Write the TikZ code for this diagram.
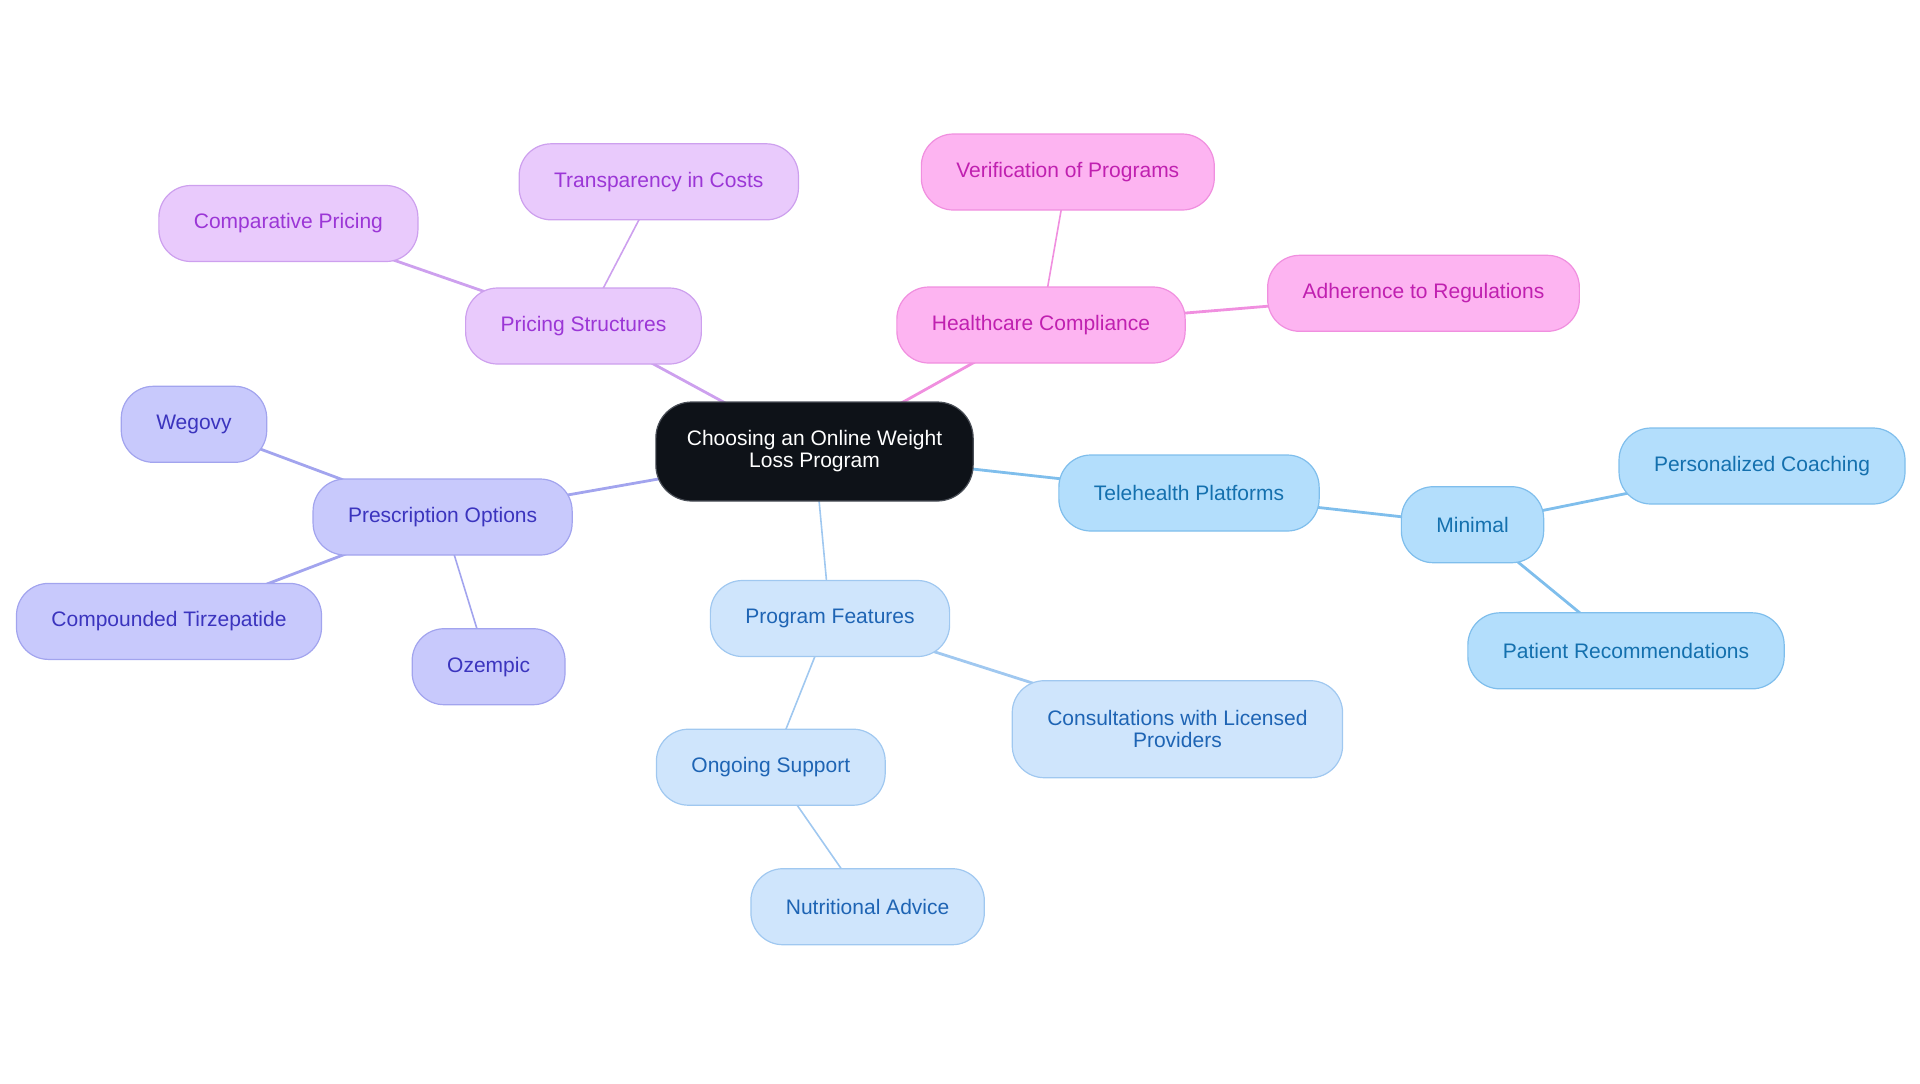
\documentclass[tikz,border=0pt]{standalone}
\usepackage{fontspec}
\setmainfont{Liberation Sans}
\usetikzlibrary{backgrounds}
\definecolor{rootfill}{HTML}{0E1218}
\definecolor{rootline}{HTML}{4A4F57}
\definecolor{pricefill}{HTML}{E9CAFC}
\definecolor{priceline}{HTML}{CDA0EE}
\definecolor{pricetext}{HTML}{9B36D6}
\definecolor{compfill}{HTML}{FDB4F1}
\definecolor{compline}{HTML}{F08FDF}
\definecolor{comptext}{HTML}{C020B0}
\definecolor{prescfill}{HTML}{C8C9FC}
\definecolor{prescline}{HTML}{A2A4EE}
\definecolor{presctext}{HTML}{3B34BE}
\definecolor{featfill}{HTML}{CFE5FC}
\definecolor{featline}{HTML}{A0C8F0}
\definecolor{feattext}{HTML}{1E64B4}
\definecolor{telefill}{HTML}{B3DEFC}
\definecolor{teleline}{HTML}{7FBEEC}
\definecolor{teletext}{HTML}{1470AE}
\tikzset{pill/.style = {draw, line width=0.6pt, rectangle, rounded corners=16pt, minimum height=38pt, inner xsep=17.5pt, inner ysep=0pt, align=center, font=\fontsize{10.5}{11}\selectfont},
         rootbox/.style = {pill, fill=rootfill, draw=rootline, text=white, rounded corners=18pt, minimum height=49.5pt, inner xsep=15.5pt},
         pricebox/.style = {pill, fill=pricefill, draw=priceline, text=pricetext},
         compbox/.style = {pill, fill=compfill, draw=compline, text=comptext},
         prescbox/.style = {pill, fill=prescfill, draw=prescline, text=presctext},
         featbox/.style = {pill, fill=featfill, draw=featline, text=feattext},
         telebox/.style = {pill, fill=telefill, draw=teleline, text=teletext},
         link/.style = {line width=1.4pt},
         slink/.style = {line width=0.8pt}}
\begin{document}
\begin{tikzpicture}[x=0.5pt, y=-0.5pt]
    \useasboundingbox (0,0) rectangle (1920,1083);
    \node[rootbox](root)at(814.5,451.5){Choosing an Online Weight\\Loss Program};

    \node[pricebox](price)at(583.5,326){Pricing Structures};
    \node[pricebox](transp)at(658.8,181.8){Transparency in Costs};
    \node[pricebox](compar)at(288.4,223.5){Comparative Pricing};

    \node[compbox](health)at(1041,325){Healthcare Compliance};
    \node[compbox](verif)at(1067.8,172){Verification of Programs};
    \node[compbox](adher)at(1423.5,293.3){Adherence to Regulations};

    \node[telebox](tele)at(1189,493){Telehealth Platforms};
    \node[telebox](minim)at(1472.5,524.7){Minimal};
    \node[telebox](coach)at(1762,466){Personalized Coaching};
    \node[telebox](recom)at(1626,650.8){Patient Recommendations};

    \node[prescbox](presc)at(442.6,517){Prescription Options};
    \node[prescbox](wegovy)at(194,424.3){Wegovy};
    \node[prescbox](tirz)at(169,621.4){Compounded Tirzepatide};
    \node[prescbox](ozem)at(488.6,666.7){Ozempic};

    \node[featbox](feat)at(830,618.5){Program Features};
    \node[featbox](support)at(770.8,767.2){Ongoing Support};
    \node[featbox](nutri)at(867.6,906.7){Nutritional Advice};
    \node[featbox, minimum height=48.5pt](consult)at(1177.4,729.2){Consultations with Licensed\\Providers};

    \begin{pgfonlayer}{background}
        \draw[link, draw=priceline](root.center)--(price.center);
        \draw[slink, draw=priceline](price.center)--(transp.center);
        \draw[link, draw=priceline](price.center)--(compar.center);
        \draw[link, draw=compline](root.center)--(health.center);
        \draw[slink, draw=compline](health.center)--(verif.center);
        \draw[link, draw=compline](health.center)--(adher.center);
        \draw[link, draw=teleline](root.center)--(tele.center);
        \draw[link, draw=teleline](tele.center)--(minim.center);
        \draw[link, draw=teleline](minim.center)--(coach.center);
        \draw[link, draw=teleline](minim.center)--(recom.center);
        \draw[link, draw=prescline](root.center)--(presc.center);
        \draw[link, draw=prescline](presc.center)--(wegovy.center);
        \draw[link, draw=prescline](presc.center)--(tirz.center);
        \draw[slink, draw=prescline](presc.center)--(ozem.center);
        \draw[slink, draw=featline](root.center)--(feat.center);
        \draw[slink, draw=featline](feat.center)--(support.center);
        \draw[slink, draw=featline](support.center)--(nutri.center);
        \draw[link, draw=featline](feat.center)--(consult.center);
    \end{pgfonlayer}
\end{tikzpicture}
\end{document}
